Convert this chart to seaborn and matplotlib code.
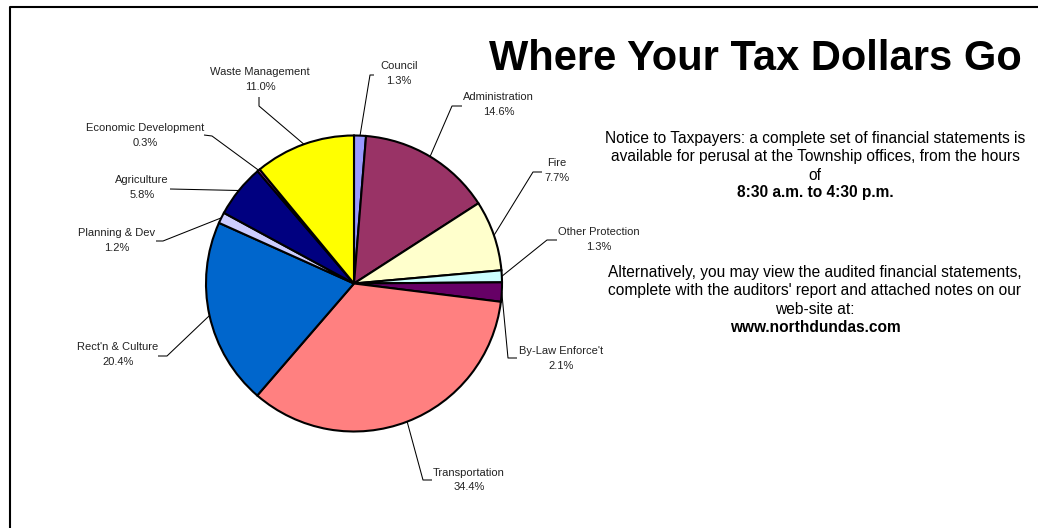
import matplotlib
matplotlib.use("Agg")
import matplotlib.pyplot as plt
import seaborn as sns
import numpy as np

# ---- data ----
categories = ["Council", "Administration", "Fire", "Other Protection", "By-Law Enforce't",
              "Transportation", "Rect'n & Culture", "Planning & Dev", "Agriculture",
              "Economic Development", "Waste Management"]
percents = [1.3, 14.6, 7.7, 1.3, 2.1, 34.4, 20.4, 1.2, 5.8, 0.3, 11.0]
slice_colors = ["#9999FF", "#993366", "#FFFFCC", "#CCFFFF", "#660066", "#FF8080",
                "#0066CC", "#CCCCFF", "#000080", "#CC33CC", "#FFFF00"]

title = "Where Your Tax Dollars Go"
notice_lines = ["Notice to Taxpayers: a complete set of financial statements is",
                "available for perusal at the Township offices, from the hours",
                "of"]
notice_bold = "8:30 a.m. to 4:30 p.m."
alt_lines = ["Alternatively, you may view the audited financial statements,",
             "complete with the auditors' report and attached notes on our",
             "web-site at:"]
alt_bold = "www.northdundas.com"

# ---- layout (pixel coordinates, y measured from top) ----
W, H = 1038, 528
pie_cx, pie_cy, pie_r = 354, 283.5, 148
# label text centre, leader elbow, leader end (near text)
label_pos = [(399, 73.5), (498.5, 104.5), (557, 170.5), (599, 239.5), (561, 358.5),
             (469, 480), (118, 354.5), (117, 240.5), (142, 187.5), (145, 135.5), (260, 79.5)]
elbow_pos = [(370, 75), (452, 106), (533, 172), (547, 240), (508, 358),
             (423, 480), (167, 356), (163, 241), (170, 189), (212, 136), (259, 106)]
end_pos = [(374, 75), (462, 106), (542, 172), (557, 240), (517, 358),
           (432, 480), (158, 356), (156, 241), (170, 189), (204, 135), (259, 97)]

sns.set_theme(style="white")
plt.rcParams["font.family"] = ["Liberation Sans", "DejaVu Sans"]

fig = plt.figure(figsize=(W / 100, H / 100), dpi=100)
ax = fig.add_axes([0, 0, 1, 1])

def Y(y):
    return H - y

palette = sns.color_palette(slice_colors)
wedges, _ = ax.pie(percents, colors=palette, startangle=90, counterclock=False,
                   center=(pie_cx, Y(pie_cy)), radius=pie_r,
                   wedgeprops=dict(edgecolor="black", linewidth=1.5))

ax.set_xlim(0, W)
ax.set_ylim(0, H)
ax.set_aspect("equal", adjustable="box")
ax.axis("off")

for w, cat, pct, (tx, ty), (ex, ey), (nx, ny) in zip(wedges, categories, percents,
                                                    label_pos, elbow_pos, end_pos):
    ang = np.deg2rad((w.theta1 + w.theta2) / 2)
    px = pie_cx + pie_r * np.cos(ang)
    py = Y(pie_cy) + pie_r * np.sin(ang)
    ax.plot([px, ex, nx], [py, Y(ey), Y(ny)], color="black", linewidth=0.75,
            solid_capstyle="butt", zorder=1)
    ax.text(tx, Y(ty), f"{cat}\n{pct:.1f}%", ha="center", va="center",
            fontsize=8, color="#222222", linespacing=1.55)

# Title and notes
ax.text(755, Y(70), title, ha="center", va="baseline", fontsize=30, fontweight="bold",
        color="black")
body_fs = 11.2
for i, line in enumerate(notice_lines):
    ax.text(815, Y(139 + 18 * i), line, ha="center", va="center", fontsize=body_fs,
            color="black")
ax.text(815, Y(193), notice_bold, ha="center", va="center", fontsize=body_fs,
        fontweight="bold", color="black")
for i, line in enumerate(alt_lines):
    ax.text(815, Y(273 + 18 * i), line, ha="center", va="center", fontsize=body_fs,
            color="black")
ax.text(815, Y(327), alt_bold, ha="center", va="center", fontsize=body_fs,
        fontweight="bold", color="black")

# frame (top and left edges visible)
ax.plot([9.5, 9.5, W + 5], [-5, Y(6.5), Y(6.5)], color="black", linewidth=1.5,
        clip_on=False)

fig.savefig("out.png", dpi=100, facecolor="white")
